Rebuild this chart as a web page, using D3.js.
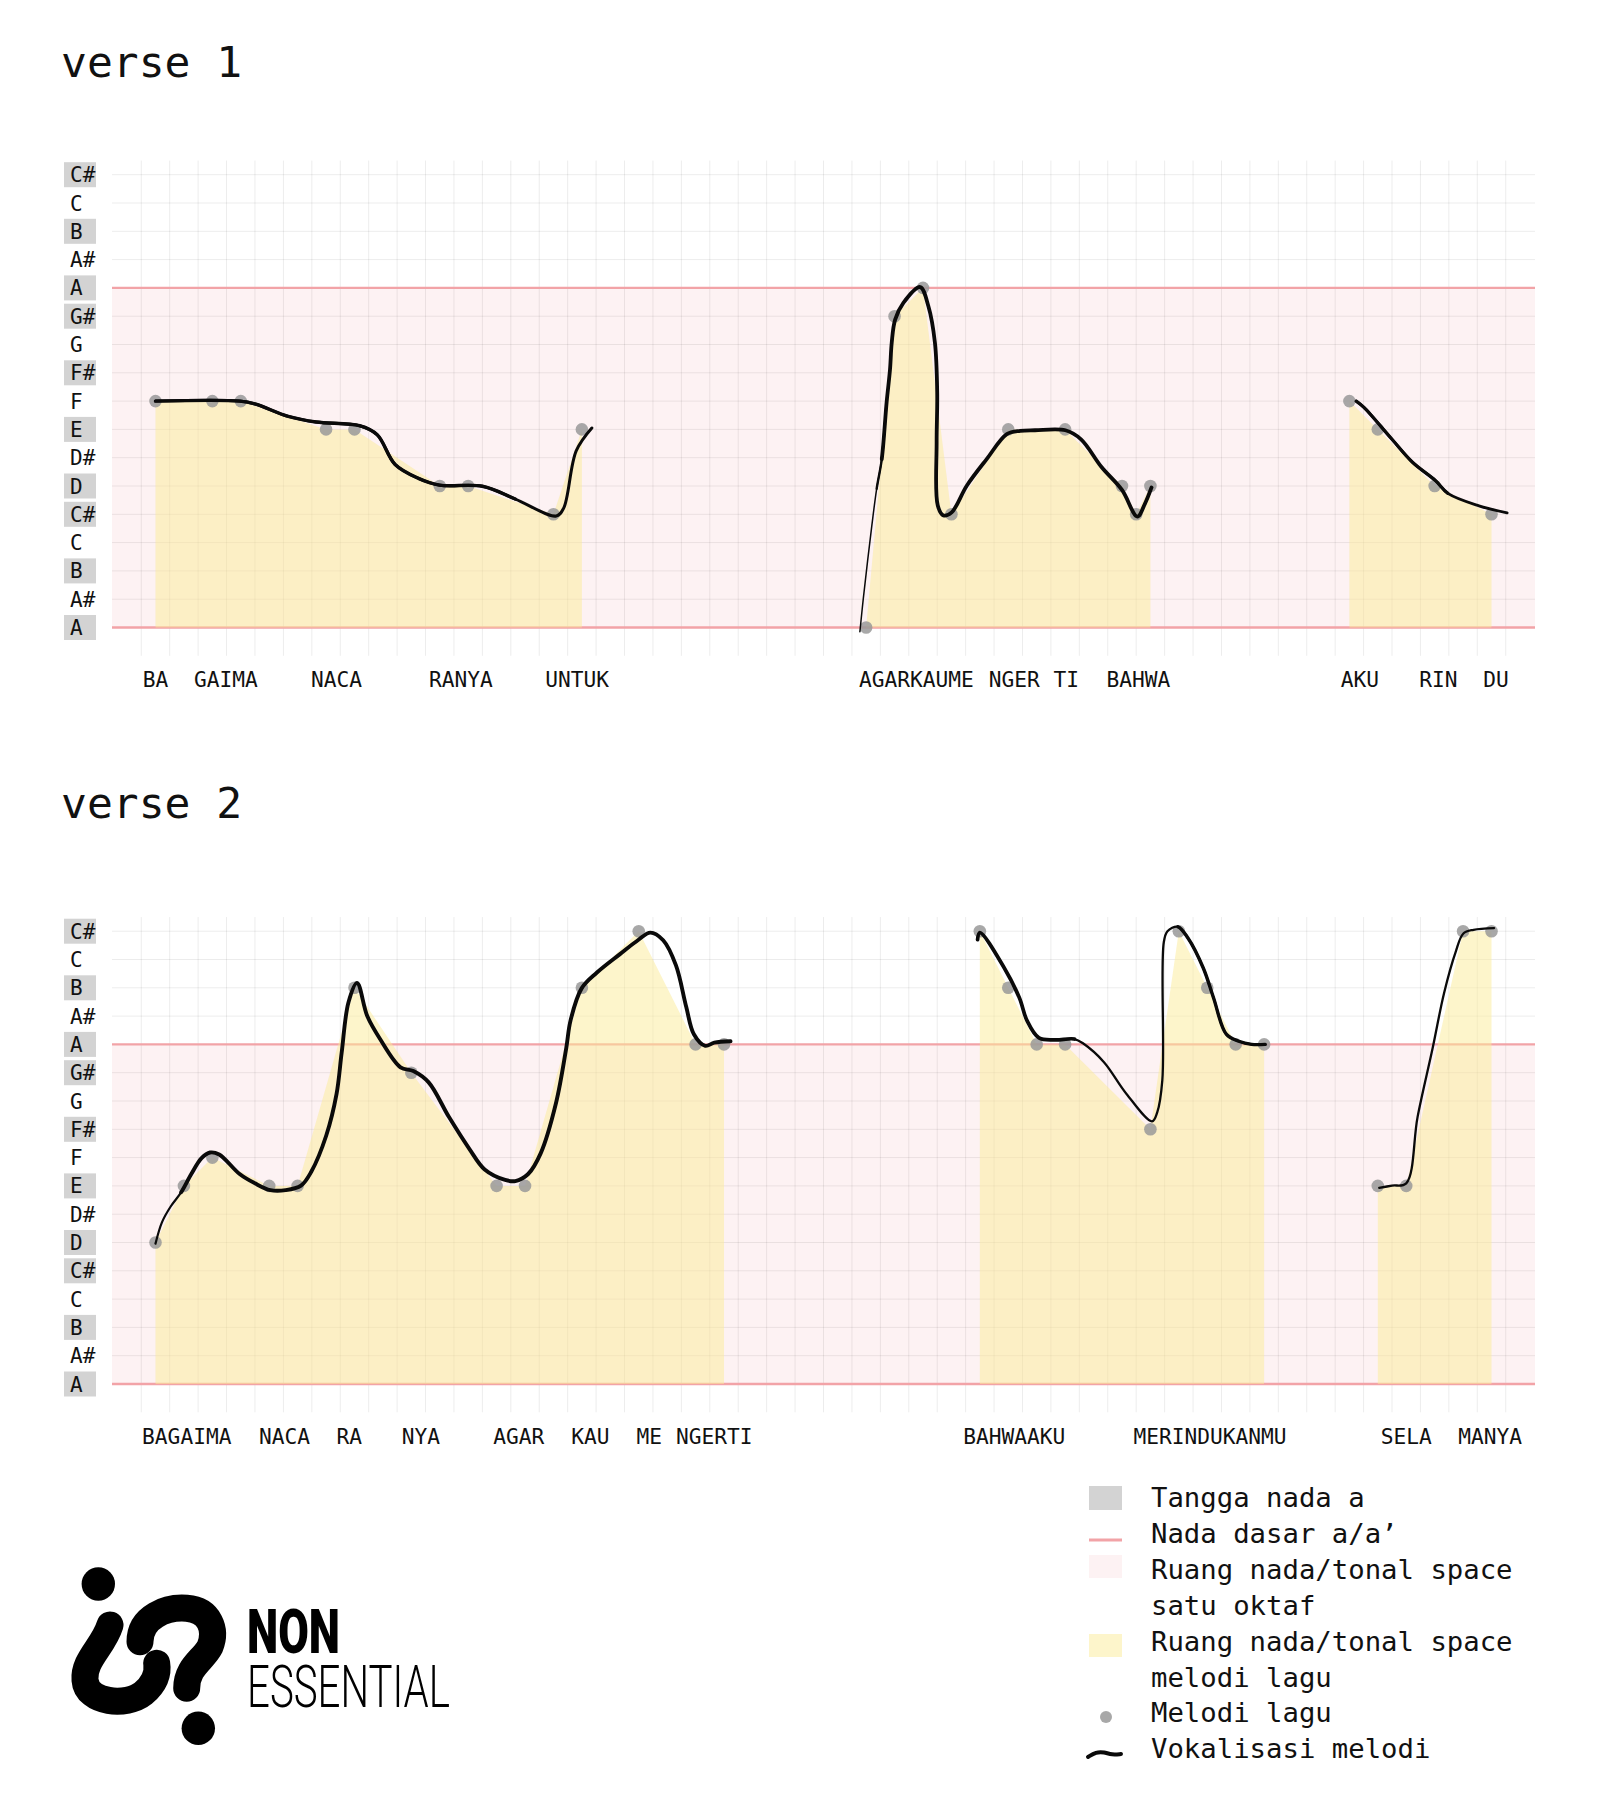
<!DOCTYPE html>
<html><head><meta charset="utf-8">
<script src="https://cdn.jsdelivr.net/npm/d3@7"></script>
<style>body{margin:0;background:#fff}svg{display:block}</style>
</head><body>
<svg id="chart" width="1600" height="1800"></svg>
<script>
// ---------- DATA ----------
const noteNames = ["A","A#","B","C","C#","D","D#","E","F","F#","G","G#","A","A#","B","C","C#"];
const scaleTones = ["A","B","C#","D","E","F#","G#"];

// melody points: [time slot, semitones above low A]
const verse1Melody = [
  [[0,8],[2,8],[3,8],[6,7],[7,7],[10,5],[11,5],[14,4],[15,7]],
  [[25,0],[26,11],[27,12],[28,4],[30,7],[32,7],[34,5],[34.5,4],[35,5]],
  [[42,8],[43,7],[45,5],[47,4]]
];
const verse2Melody = [
  [[0,5],[1,7],[2,8],[4,7],[5,7],[7,14],[9,11],[12,7],[13,7],[15,14],[17,16],[19,12],[20,12]],
  [[29,16],[30,14],[31,12],[32,12],[35,9],[36,16],[37,14],[38,12],[39,12]],
  [[43,7],[44,7],[46,16],[47,16]]
];

// vocalisation traces
const verse1Vocal = [
  [[0,8],[2.96,8],[3.5,7.9],[4.67,7.46],[5.65,7.26],[7.18,7.13],[7.8,6.81],[8.43,5.76],[9.25,5.27],[10,5.03],[11.5,4.99],[12.66,4.54],[14.1,3.94],[14.36,4.22],[14.8,6.24],[15.35,7.05]],
  [[24.78,-0.15],[24.9,1.02],[25.2,3.6],[25.37,4.9],[25.55,5.95],[25.72,7.95],[25.84,9.12],[25.9,10.06],[26.02,10.88],[26.31,11.47],[26.9,12.03],[27.19,11.35],[27.42,10.06],[27.5,8.3],[27.48,6.54],[27.52,4.31],[27.72,3.96],[28.01,4.07],[28.54,5.01],[29.24,5.95],[29.95,6.83],[30.42,6.95],[30.94,6.97],[32.01,6.97],[32.56,6.65],[33.28,5.67],[34.0,4.86],[34.54,3.92],[34.81,4.38],[35.04,4.95]],
  [[42.24,8],[42.51,7.78],[43.5,6.65],[44.22,5.84],[45.03,5.19],[45.48,4.73],[46.56,4.3],[47.55,4.05]]
];
const verse2Vocal = [
  [[0,4.96],[0.23,5.72],[0.54,6.28],[0.9,6.77],[1.26,7.42],[1.62,7.98],[1.92,8.18],[2.24,8.11],[2.96,7.42],[3.5,7.09],[4.04,6.85],[4.58,6.85],[5.12,7.01],[5.48,7.5],[6.01,8.79],[6.37,10.25],[6.55,11.71],[6.79,13.49],[7.09,14.17],[7.45,13.0],[7.9,12.19],[8.62,11.19],[9.07,11.06],[9.61,10.66],[10.32,9.44],[11.04,8.31],[11.58,7.58],[12.3,7.21],[12.66,7.17],[13.11,7.42],[13.55,8.15],[14.09,9.93],[14.45,11.87],[14.6,12.84],[14.99,13.98],[15.53,14.54],[16.34,15.19],[16.97,15.68],[17.41,15.95],[17.86,15.68],[18.31,14.79],[18.67,13.33],[18.94,12.36],[19.34,11.95],[19.66,12.06],[20.23,12.11]],
  [[28.92,15.7],[29.0,15.95],[29.86,14.7],[30.39,13.65],[30.66,12.84],[31.08,12.23],[31.65,12.16],[32.33,12.19],[32.64,12.03],[33.36,11.38],[34.16,10.25],[35.06,9.28],[35.24,9.6],[35.42,10.74],[35.47,15.6],[35.6,16.0],[35.96,16.16],[36.32,15.76],[36.86,14.7],[37.22,13.65],[37.67,12.36],[38.11,12.11],[38.56,12.0],[39.04,12.0]],
  [[43.05,6.93],[43.5,7.01],[44.0,7.09],[44.4,9.44],[44.93,11.87],[45.33,13.81],[45.74,15.27],[46.01,15.92],[46.37,16.05],[47.09,16.11]]
];

// lyric labels: [text, time slot of label centre]
const verse1Lyrics = [["BA",0],["GAIMA",2.48],["NACA",6.37],["RANYA",10.74],["UNTUK",14.83],["AGARKAUME",26.77],["NGER",30.21],["TI",32.04],["BAHWA",34.58],["AKU",42.37],["RIN",45.13],["DU",47.16]];
const verse2Lyrics = [["BAGAIMA",1.10],["NACA",4.54],["RA",6.82],["NYA",9.34],["AGAR",12.78],["KAU",15.3],["ME",17.37],["NGERTI",19.66],["BAHWAAKU",30.21],["MERINDUKANMU",37.1],["SELA",44.0],["MANYA",46.95]];

const legendItems = ["Tangga nada a","Nada dasar a/a\u2019","Ruang nada/tonal space|satu oktaf","Ruang nada/tonal space|melodi lagu","Melodi lagu","Vokalisasi melodi"];

// ---------- STYLE ----------
// per phrase: base stroke width, and thicker stretches [fromPoint, toPoint, width]
const verse1Stroke = [
  {base:3.0, thick:[[0,11,3.4]]},
  {base:1.5, thick:[[3,5,2.4],[4,29,3.8]]},
  {base:2.8, thick:[[0,5,3.2]]}
];
const verse2Stroke = [
  {base:2.2, thick:[[3,45,3.9]]},
  {base:2.3, thick:[[0,7,3.7],[16,23,3.4]]},
  {base:2.3, thick:[]}
];
const MONO = "'DejaVu Sans Mono', monospace";
const PINK_LINE = "#f2a3a7", PINK_FILL = "#fdf2f3";
const YELLOW = "#fbec98", YELLOW_OP = 0.5;
const SCALE_BOX = "#d3d3d3";
const DOT = "#999999";

const svg = d3.select("#chart");
svg.append("rect").attr("width",1600).attr("height",1800).attr("fill","#fff");

const x = d3.scaleLinear().domain([-1.53, 48.53]).range([112, 1535]);

function lengthAt(node, px, py){
  const total = node.getTotalLength();
  let best = 0, bd = Infinity;
  for (let l = 0; l <= total; l += 0.5){
    const p = node.getPointAtLength(l);
    const d = (p.x-px)*(p.x-px)+(p.y-py)*(p.y-py);
    if (d < bd){ bd = d; best = l; }
  }
  return best;
}

function drawVerse(title, titleY, offset, melody, vocal, strokes, lyrics){
  const y = d3.scaleLinear().domain([-1, 16.5]).range([655.8 + offset, 160.55 + offset]);
  const g = svg.append("g");
  g.append("text").attr("x",61).attr("y",titleY).attr("font-family",MONO)
    .attr("font-size",43).attr("fill","#111").text(title);

  // pink octave band
  g.append("rect").attr("x",x.range()[0]).attr("width",x.range()[1]-x.range()[0])
    .attr("y",y(12)).attr("height",y(0)-y(12)).attr("fill",PINK_FILL);

  // grid
  const vx = d3.range(-0.5, 48, 1);
  g.append("g").selectAll("line").data(vx).join("line")
    .attr("x1",d=>x(d)).attr("x2",d=>x(d)).attr("y1",y(16.5)).attr("y2",y(-1))
    .attr("stroke","#000").attr("stroke-opacity",0.075).attr("stroke-width",1);
  const hy = d3.range(0, 17, 1);
  g.append("g").selectAll("line").data(hy).join("line")
    .attr("x1",x.range()[0]).attr("x2",x.range()[1]).attr("y1",d=>y(d)).attr("y2",d=>y(d))
    .attr("stroke","#000").attr("stroke-opacity",0.075).attr("stroke-width",1);

  // base lines a / a'
  g.append("g").selectAll("line").data([0,12]).join("line")
    .attr("x1",x.range()[0]).attr("x2",x.range()[1]).attr("y1",d=>y(d)).attr("y2",d=>y(d))
    .attr("stroke",PINK_LINE).attr("stroke-width",2.3);

  // y labels
  const yl = g.append("g");
  yl.selectAll("rect").data(noteNames.map((n,i)=>[n,i]).filter(d=>scaleTones.includes(d[0]))).join("rect")
    .attr("x",64).attr("width",32).attr("y",d=>y(d[1])-12.5).attr("height",25).attr("fill",SCALE_BOX);
  yl.selectAll("text").data(noteNames.map((n,i)=>[n,i])).join("text")
    .attr("x",70).attr("y",d=>y(d[1])).attr("dy","0.36em")
    .attr("font-family",MONO).attr("font-size",21).attr("fill","#111").text(d=>d[0]);

  // melody area
  const area = d3.area().x(d=>x(d[0])).y0(y(0)).y1(d=>y(d[1])).curve(d3.curveLinear);
  g.append("g").selectAll("path").data(melody).join("path")
    .attr("d",area).attr("fill",YELLOW).attr("fill-opacity",YELLOW_OP);

  // melody dots
  g.append("g").selectAll("circle").data(melody.flat()).join("circle")
    .attr("cx",d=>x(d[0])).attr("cy",d=>y(d[1])).attr("r",6.3)
    .attr("fill",DOT).attr("fill-opacity",0.85);

  // vocal line
  const line = d3.line().x(d=>x(d[0])).y(d=>y(d[1])).curve(d3.curveCatmullRom.alpha(0.5));
  const vg = g.append("g");
  vocal.forEach((pts,i)=>{
    const st = strokes[i];
    const base = vg.append("path").attr("d",line(pts)).attr("fill","none").attr("stroke","#0a0a0a")
      .attr("stroke-width",st.base).attr("stroke-linecap","round").attr("stroke-linejoin","round");
    const node = base.node(), total = node.getTotalLength();
    st.thick.forEach(([a,b,w])=>{
      const l1 = a === 0 ? 0 : lengthAt(node, x(pts[a][0]), y(pts[a][1]));
      const l2 = b === pts.length-1 ? total : lengthAt(node, x(pts[b][0]), y(pts[b][1]));
      vg.append("path").attr("d",line(pts)).attr("fill","none").attr("stroke","#0a0a0a")
        .attr("stroke-width",w).attr("stroke-linejoin","round").attr("stroke-linecap","round")
        .attr("stroke-dasharray",`${Math.max(0,l2-l1-0.5)} ${total+10}`).attr("stroke-dashoffset",-l1);
    });
  });

  // lyrics
  g.append("g").selectAll("text").data(lyrics).join("text")
    .attr("x",d=>x(d[1])).attr("y",687+offset).attr("text-anchor","middle")
    .attr("font-family",MONO).attr("font-size",21.2).attr("fill","#111").text(d=>d[0]);
}

drawVerse("verse 1", 77, 0, verse1Melody, verse1Vocal, verse1Stroke, verse1Lyrics);
drawVerse("verse 2", 818, 756.5, verse2Melody, verse2Vocal, verse2Stroke, verse2Lyrics);

// ---------- LEGEND ----------
const lg = svg.append("g");
const rowY = [1507, 1543, 1579, 1651, 1722, 1758];
legendItems.forEach((t,i)=>{
  const parts = t.split("|");
  const txt = lg.append("text").attr("font-family",MONO).attr("font-size",27.3).attr("fill","#111");
  parts.forEach((p,j)=>txt.append("tspan").attr("x",1151).attr("y",rowY[i]+j*35.7).text(p));
});
lg.append("rect").attr("x",1089).attr("y",1486).attr("width",33).attr("height",24).attr("fill",SCALE_BOX);
lg.append("line").attr("x1",1089).attr("x2",1122).attr("y1",1540).attr("y2",1540).attr("stroke",PINK_LINE).attr("stroke-width",3);
lg.append("rect").attr("x",1089).attr("y",1555).attr("width",33).attr("height",23).attr("fill",PINK_FILL);
lg.append("rect").attr("x",1089).attr("y",1634).attr("width",33).attr("height",23).attr("fill",YELLOW).attr("fill-opacity",YELLOW_OP);
lg.append("circle").attr("cx",1106).attr("cy",1717).attr("r",6).attr("fill",DOT).attr("fill-opacity",0.85);
lg.append("path").attr("d",d3.line().curve(d3.curveBasis)([[1088,1757],[1096,1752],[1104,1752],[1112,1755],[1121,1754]]))
  .attr("fill","none").attr("stroke","#0a0a0a").attr("stroke-width",4).attr("stroke-linecap","round");

// ---------- LOGO ----------
const logo = svg.append("g");
logo.append("circle").attr("cx",98.3).attr("cy",1584).attr("r",16.7).attr("fill","#000");
logo.append("circle").attr("cx",198.3).attr("cy",1728.3).attr("r",16.7).attr("fill","#000");
logo.append("path").attr("d","M110,1625 C103.3,1646.7 83.3,1660 85,1680 C86.7,1703.3 126.7,1706.7 143.3,1693.3 C155,1683.3 158.3,1673.3 156.7,1663.3")
  .attr("fill","none").attr("stroke","#000").attr("stroke-width",27).attr("stroke-linecap","round");
logo.append("path").attr("d","M140,1641.7 C140,1616.7 166.7,1606.7 186.7,1608.3 C210,1610 216.7,1630 210,1646.7 C203.3,1660 186.7,1666.7 186.7,1688.3")
  .attr("fill","none").attr("stroke","#000").attr("stroke-width",27).attr("stroke-linecap","round");
logo.append("text").attr("x",247).attr("y",1653).attr("font-family","Roboto, sans-serif").attr("font-weight",900)
  .attr("font-size",61).attr("textLength",93).attr("lengthAdjust","spacingAndGlyphs").attr("fill","#000").text("NON");
logo.append("text").attr("x",247).attr("y",1707).attr("font-family","Roboto, sans-serif").attr("font-weight",300)
  .attr("font-size",58.5).attr("textLength",203).attr("lengthAdjust","spacingAndGlyphs").attr("fill","#000").text("ESSENTIAL");
</script>
</body></html>
